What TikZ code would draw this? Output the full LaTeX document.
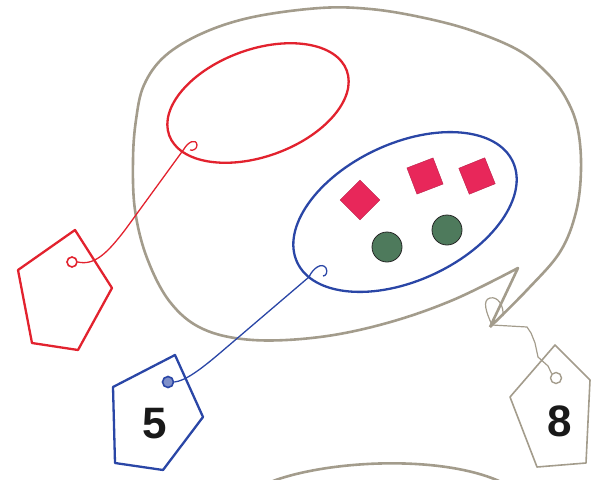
\documentclass[tikz,border=0pt]{standalone}
\usepackage{fontspec}
\setmainfont{Liberation Sans}
\usetikzlibrary{shapes.geometric}
\definecolor{blobgray}{HTML}{A39C8C}
\definecolor{tagred}{HTML}{E2222E}
\definecolor{tagblue}{HTML}{2A46A6}
\definecolor{sqpink}{HTML}{E8275A}
\definecolor{dotgreen}{HTML}{4E7A5C}
\begin{document}
\begin{tikzpicture}[x=1pt,y=-1pt,
  blob/.style={draw=blobgray,line width=2.6pt,line join=round},
  redline/.style={draw=tagred,line width=2.3pt,line join=round},
  blueline/.style={draw=tagblue,line width=2.3pt,line join=round},
  graytag/.style={draw=blobgray,line width=1.6pt,line join=round},
  redstring/.style={draw=tagred,line width=1.3pt},
  bluestring/.style={draw=tagblue,line width=1.3pt},
  graystring/.style={draw=blobgray,line width=1.2pt},
  hole/.style={circle,inner sep=0pt,minimum size=10pt},
  sq/.style={rectangle,fill=sqpink,draw=sqpink!80!black,line width=0.4pt,minimum size=28pt,inner sep=0pt},
  dot/.style={circle,fill=dotgreen,draw=black!85,line width=0.8pt,minimum size=30pt,inner sep=0pt},
  num/.style={font=\fontsize{44}{44}\selectfont\bfseries,text=black!90}]
\useasboundingbox (0,0) rectangle (591,479);

% big gray blob
\draw[blob] plot[smooth,tension=0.6] coordinates {(490,327) (527,290) (560,252) (576,212) (581,170) (578,130) (567,100) (548,74) (518,50) (470,30) (420,17) (370,9) (320,8) (253,17) (203,33) (165,56) (144,85) (136,120) (133,160) (135,210) (147,258) (170,302) (203,329) (253,340) (320,337) (387,323) (453,300) (518,268)} -- (490,327);
% partial curve at bottom
\draw[blob] (273,481) .. controls (330,460) and (440,455) .. (499,481);

% red ellipse
\node[ellipse,redline,minimum width=189pt,minimum height=107pt,rotate=20] (redset) at (258,103) {};
% blue ellipse
\node[ellipse,blueline,minimum width=238pt,minimum height=137pt,rotate=25] (blueset) at (405,212) {};

% members
\node[sq,rotate=45] (s1) at (360,200) {};
\node[sq,rotate=21] (s2) at (425,176) {};
\node[sq,rotate=22] (s3) at (477,176) {};
\node[dot] (c1) at (387,247) {};
\node[dot] (c2) at (447,230) {};

% red tag
\draw[redline] (75,230) -- (112,288) -- (78,350) -- (32,343) -- (18,270) -- cycle;
\node[hole,draw=tagred,line width=1.6pt] (rhole) at (72,262) {};
\coordinate (rcurl) at (184,149);
\draw[redstring] (rhole.east) .. controls (95,266) and (108,252) .. (125,230) -- (rcurl)
  .. controls (188,142) and (196,138) .. (197,145) .. controls (197,149) and (193,151) .. (190,150);

% blue tag
\draw[blueline] (175,355) -- (203,417) -- (163,470) -- (115,463) -- (113,387) -- cycle;
\node[hole,draw=tagblue,fill=tagblue!60,line width=1.6pt,minimum size=11pt] (bhole) at (168,382) {};
\node[num] (five) at (155,424) {5};
\coordinate (bcurl) at (309,277);
\draw[bluestring] (bhole.east) .. controls (185,381) and (200,370) .. (220,353) -- (bcurl)
  .. controls (313,268) and (322,262) .. (326,268) .. controls (328,272) and (326,276) .. (323,276);

% gray tag
\draw[graytag] (555,345) -- (590,380) -- (586,463) -- (537,467) -- (510,397) -- cycle;
\node[hole,draw=blobgray,line width=1.4pt,minimum size=11pt] (ghole) at (556,378) {};
\node[num] (eight) at (560,421) {8};
\coordinate (knot) at (492,325);
\draw[graystring] (knot) .. controls (486,312) and (482,300) .. (490,298) .. controls (498,296) and (504,306) .. (503,316);
\draw[graystring] (knot) -- (527,327) -- (531,333) -- (535,343) -- (538,357) -- (548,366) -- (ghole.north west);
\end{tikzpicture}
\end{document}
